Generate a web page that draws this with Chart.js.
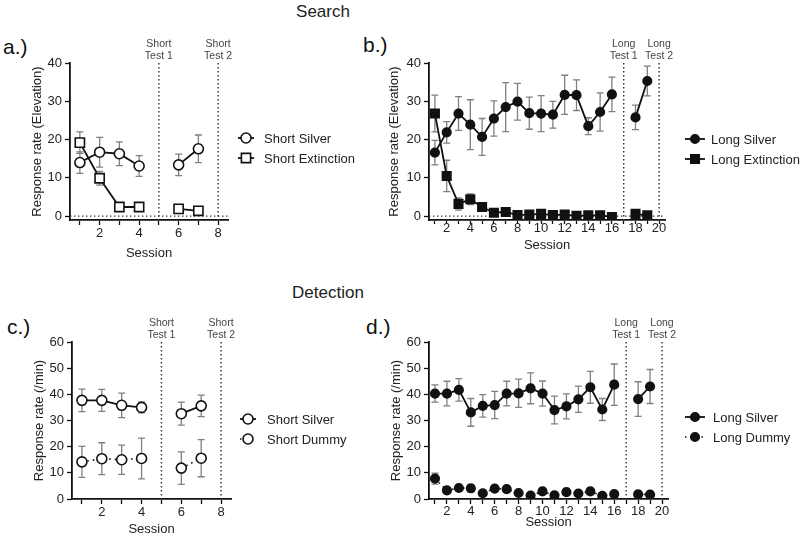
<!DOCTYPE html>
<html>
<head>
<meta charset="utf-8">
<script src="https://cdn.jsdelivr.net/npm/chart.js@4.4.0/dist/chart.umd.min.js"></script>
<style>
  body { margin: 0; background: #fff; font-family: "Liberation Sans", Arial, sans-serif; }
  #fig { position: relative; width: 800px; height: 537px; overflow: hidden; }
  .box { position: absolute; }
  .heading { position: absolute; font-size: 17px; line-height: 20px; color: #222; transform: translateX(-50%); }
  .tag { position: absolute; font-size: 21px; line-height: 24px; color: #111; }
</style>
</head>
<body>
<div id="fig">
  <div class="heading" style="left:323px;top:2px">Search</div>
  <div class="heading" style="left:328px;top:283px">Detection</div>
  <div class="tag" style="left:3px;top:35px">a.)</div>
  <div class="tag" style="left:363px;top:33px">b.)</div>
  <div class="tag" style="left:7px;top:315px">c.)</div>
  <div class="tag" style="left:366px;top:315px">d.)</div>
  <div class="box" style="left:0;top:30px;width:360px;height:250px"><canvas id="chartA"></canvas></div>
  <div class="box" style="left:358px;top:30px;width:442px;height:250px"><canvas id="chartB"></canvas></div>
  <div class="box" style="left:0;top:310px;width:360px;height:227px"><canvas id="chartC"></canvas></div>
  <div class="box" style="left:358px;top:310px;width:442px;height:227px"><canvas id="chartD"></canvas></div>
</div>
<script>
// sessions (5/8 and 17/20 are the test sessions, no training data)
const shortSessions = [1, 2, 3, 4, 6, 7];
const longSessions = [1, 2, 3, 4, 5, 6, 7, 8, 9, 10, 11, 12, 13, 14, 15, 16, 18, 19];
const shortTests = [5, 8];
const longTests = [17, 20];
const shortXTicks = [1, 2, 3, 4, 5, 6, 7, 8];
const longXTicks = [1, 2, 3, 4, 5, 6, 7, 8, 9, 10, 11, 12, 13, 14, 15, 16, 17, 18, 19, 20];
const searchYTicks = [0, 10, 20, 30, 40];
const detectionYTicks = [0, 10, 20, 30, 40, 50, 60];

// a.) Search, short
const searchShortSilver = [14.0, 16.7, 16.3, 13.1, 13.4, 17.6];
const searchShortSilverErr = [2.8, 3.9, 3.1, 2.7, 2.8, 3.6];
const searchShortExtinction = [19.2, 9.9, 2.4, 2.4, 1.9, 1.4];
const searchShortExtinctionErr = [2.8, 1.8, 0.4, 0.4, 0.3, 0.3];

// b.) Search, long
const searchLongSilver = [16.6, 21.9, 26.8, 23.9, 20.7, 25.5, 28.5, 29.9, 26.9, 26.8, 26.5, 31.7, 31.6, 23.5, 27.2, 31.8, 25.8, 35.3];
const searchLongSilverErr = [3.2, 2.8, 4.4, 6.5, 4.8, 4.6, 6.4, 4.8, 4.2, 4.7, 3.5, 5.1, 4.0, 2.2, 5.0, 4.5, 3.2, 3.9];
const searchLongExtinction = [26.8, 10.5, 3.2, 4.4, 2.4, 0.9, 1.1, 0.3, 0.4, 0.6, 0.3, 0.4, 0.1, 0.2, 0.2, -0.2, 0.6, 0.2];
const searchLongExtinctionErr = [4.8, 4.1, 1.6, 1.4, 0.5, 0.3, 0.3, 0.2, 0.2, 0.2, 0.2, 0.2, 0.2, 0.2, 0.2, 0.2, 0.2, 0.2];

// c.) Detection, short
const detectShortSilver = [37.7, 37.7, 35.8, 35.0, 32.6, 35.6];
const detectShortSilverErr = [4.3, 4.2, 4.7, 2.1, 4.4, 4.1];
const detectShortDummy = [14.2, 15.4, 15.0, 15.5, 11.8, 15.6];
const detectShortDummyErr = [5.9, 6.1, 5.6, 7.8, 6.2, 7.1];

// d.) Detection, long
const detectLongSilver = [40.3, 40.3, 41.7, 33.1, 35.6, 35.9, 40.3, 40.4, 42.3, 40.3, 34.0, 35.4, 38.1, 42.7, 34.2, 43.7, 38.2, 43.0];
const detectLongSilverErr = [3.3, 4.7, 4.3, 5.3, 4.3, 5.2, 4.7, 5.4, 5.9, 4.8, 5.3, 4.8, 5.0, 6.1, 4.2, 7.9, 6.6, 6.5];
const detectLongDummy = [7.8, 3.3, 4.2, 4.1, 2.2, 4.0, 3.8, 2.3, 1.3, 2.9, 1.4, 2.6, 2.1, 2.9, 1.2, 1.9, 1.8, 1.7];
const detectLongDummyErr = [2.1, 0.5, 0.6, 1.4, 0.4, 0.5, 1.2, 0.6, 0.4, 0.5, 0.4, 0.5, 0.4, 0.5, 0.4, 0.4, 0.4, 0.4];

const FONT = '"Liberation Sans", Arial, sans-serif';
Chart.defaults.font.family = FONT;
Chart.defaults.font.size = 13;
Chart.defaults.color = '#222';

// turn sessions + values into points, with a null where the test session breaks the line
function toPoints(sessions, values, errs) {
    const pts = [];
    sessions.forEach((s, i) => {
        if (i > 0 && s - sessions[i - 1] > 1) pts.push({ x: s - 1, y: null });
        pts.push({ x: s, y: values[i], e: errs[i] });
    });
    return pts;
}

function series(label, sessions, values, errs, style) {
    return {
        label: label,
        data: toPoints(sessions, values, errs),
        borderColor: '#111',
        borderWidth: style.dotted ? 1.6 : 1.8,
        borderDash: style.dotted ? [1.5, 4] : [],
        pointStyle: style.shape,
        pointRadius: style.radius,
        pointBackgroundColor: style.filled ? '#111' : '#fff',
        pointBorderColor: '#111',
        pointBorderWidth: 1.6,
        spanGaps: false,
        tension: 0
    };
}

// error bars, dotted test lines, test labels and the side legend
const panelDecor = {
    id: 'panelDecor',
    beforeDatasetsDraw(chart, args, o) {
        const { ctx, chartArea: ca, scales: { x, y } } = chart;
        ctx.save();
        ctx.strokeStyle = '#333';
        ctx.lineWidth = 1.4;
        ctx.setLineDash([1.4, 2.6]);
        o.tests.forEach(t => {
            const px = x.getPixelForValue(t);
            ctx.beginPath();
            ctx.moveTo(px, ca.top);
            ctx.lineTo(px, ca.bottom);
            ctx.stroke();
        });
        if (o.zeroLine) {
            const py = y.getPixelForValue(0);
            ctx.beginPath();
            ctx.moveTo(ca.left, py);
            ctx.lineTo(ca.right, py);
            ctx.stroke();
        }
        ctx.setLineDash([]);

        ctx.strokeStyle = '#808080';
        ctx.lineWidth = 1.3;
        chart.data.datasets.forEach((ds, di) => {
            const meta = chart.getDatasetMeta(di);
            meta.data.forEach((el, i) => {
                const d = ds.data[i];
                if (d.y === null || !d.e) return;
                const top = y.getPixelForValue(d.y + d.e);
                const bot = y.getPixelForValue(d.y - d.e);
                ctx.beginPath();
                ctx.moveTo(el.x, top); ctx.lineTo(el.x, bot);
                ctx.moveTo(el.x - 3.5, top); ctx.lineTo(el.x + 3.5, top);
                ctx.moveTo(el.x - 3.5, bot); ctx.lineTo(el.x + 3.5, bot);
                ctx.stroke();
            });
        });
        ctx.restore();
    },
    afterDraw(chart, args, o) {
        const { ctx, chartArea: ca, scales: { x } } = chart;
        ctx.save();

        // "Short / Test 1" labels above the dotted lines
        ctx.fillStyle = '#444';
        ctx.font = '10.5px ' + FONT;
        ctx.textAlign = 'center';
        ctx.textBaseline = 'middle';
        o.tests.forEach((t, i) => {
            const px = x.getPixelForValue(t);
            ctx.fillText(o.testWord, px, ca.top - 19);
            ctx.fillText('Test ' + (i + 1), px, ca.top - 7);
        });

        // legend
        chart.data.datasets.forEach((ds, i) => {
            const ly = o.legendY + i * 20;
            ctx.strokeStyle = ds.borderColor;
            ctx.lineWidth = ds.borderWidth;
            ctx.setLineDash(ds.borderDash);
            ctx.beginPath();
            ctx.moveTo(o.legendX - o.legendHalf, ly);
            ctx.lineTo(o.legendX + o.legendHalf, ly);
            ctx.stroke();
            ctx.setLineDash([]);
            ctx.fillStyle = ds.pointBackgroundColor;
            ctx.strokeStyle = ds.pointBorderColor;
            ctx.lineWidth = ds.pointBorderWidth;
            Chart.helpers.drawPoint(ctx, { pointStyle: ds.pointStyle, radius: ds.pointRadius, rotation: 0, borderWidth: ds.pointBorderWidth }, o.legendX, ly);
            ctx.fillStyle = '#222';
            ctx.font = '13px ' + FONT;
            ctx.textAlign = 'left';
            ctx.textBaseline = 'middle';
            ctx.fillText(ds.label, o.legendTextX, ly + 1);
        });
        ctx.restore();
    }
};

function makePanel(id, p) {
    return new Chart(document.getElementById(id), {
        type: 'line',
        data: { datasets: p.datasets },
        plugins: [panelDecor],
        options: {
            responsive: true,
            maintainAspectRatio: false,
            animation: false,
            layout: { padding: { top: p.top, right: p.right, left: 0, bottom: 0 } },
            scales: {
                x: {
                    type: 'linear',
                    min: p.xMin, max: p.xMax,
                    afterBuildTicks: s => { s.ticks = p.xTicks.map(v => ({ value: v })); },
                    afterFit: s => { s.height = p.xHeight; },
                    ticks: { autoSkip: false, maxRotation: 0, padding: p.xTickPad, color: '#222',
                             callback: v => (v % 2 === 0 ? String(v) : '') },
                    grid: { drawOnChartArea: false, drawTicks: true, tickLength: p.xTickLen, color: '#111', tickWidth: 1.3 },
                    border: { color: '#111', width: 1.8 },
                    title: { display: true, text: 'Session', color: '#222', font: { size: 13 },
                             padding: { top: 0, bottom: p.xTitlePad } }
                },
                y: {
                    min: p.yMin, max: p.yMax,
                    afterBuildTicks: s => { s.ticks = p.yTicks.map(v => ({ value: v })); },
                    afterFit: s => { s.width = p.yWidth; },
                    ticks: { padding: 3, color: '#222' },
                    grid: { drawOnChartArea: false, drawTicks: true, tickLength: 5, color: '#111', tickWidth: 1.3 },
                    border: { color: '#111', width: 1.8 },
                    title: { display: true, text: p.yTitle, color: '#222', font: { size: 13 },
                             padding: { top: p.yTitlePad, bottom: 0 } }
                }
            },
            plugins: {
                legend: { display: false },
                tooltip: { enabled: false },
                panelDecor: p.decor
            }
        }
    });
}

const openCircle = { shape: 'circle', radius: 5, filled: false };
const openSquare = { shape: 'rect', radius: 6.5, filled: false };
const dotCircle = { shape: 'circle', radius: 5, filled: false, dotted: true };
const solidCircle = { shape: 'circle', radius: 4.3, filled: true };
const solidSquare = { shape: 'rect', radius: 6, filled: true };
const solidDotCircle = { shape: 'circle', radius: 4.3, filled: true, dotted: true };

makePanel('chartA', {
    datasets: [
        series('Short Silver', shortSessions, searchShortSilver, searchShortSilverErr, openCircle),
        series('Short Extinction', shortSessions, searchShortExtinction, searchShortExtinctionErr, openSquare)
    ],
    top: 33, right: 132, yWidth: 70, xHeight: 60, xTickLen: 5, xTickPad: 1, xTitlePad: 19, yTitlePad: 30,
    xMin: 0.5, xMax: 8.5, xTicks: shortXTicks, yMin: -1, yMax: 40, yTicks: searchYTicks,
    yTitle: 'Response rate (Elevation)',
    decor: { tests: shortTests, testWord: 'Short', zeroLine: true, legendX: 246, legendHalf: 8, legendTextX: 264, legendY: 108 }
});

makePanel('chartB', {
    datasets: [
        series('Long Silver', longSessions, searchLongSilver, searchLongSilverErr, solidCircle),
        series('Long Extinction', longSessions, searchLongExtinction, searchLongExtinctionErr, solidSquare)
    ],
    top: 33, right: 135, yWidth: 71, xHeight: 60, xTickLen: 4, xTickPad: -3, xTitlePad: 27, yTitlePad: 29,
    xMin: 0.5, xMax: 20.5, xTicks: longXTicks, yMin: -1, yMax: 40, yTicks: searchYTicks,
    yTitle: 'Response rate (Elevation)',
    decor: { tests: longTests, testWord: 'Long', zeroLine: true, legendX: 337, legendHalf: 10, legendTextX: 353, legendY: 109 }
});

makePanel('chartC', {
    datasets: [
        series('Short Silver', shortSessions, detectShortSilver, detectShortSilverErr, openCircle),
        series('Short Dummy', shortSessions, detectShortDummy, detectShortDummyErr, dotCircle)
    ],
    top: 32, right: 129, yWidth: 72, xHeight: 38, xTickLen: 5, xTickPad: 1, xTitlePad: 0, yTitlePad: 32,
    xMin: 0.5, xMax: 8.5, xTicks: shortXTicks, yMin: 0, yMax: 60, yTicks: detectionYTicks,
    yTitle: 'Response rate (/min)',
    decor: { tests: shortTests, testWord: 'Short', zeroLine: false, legendX: 248, legendHalf: 8, legendTextX: 267, legendY: 109 }
});

makePanel('chartD', {
    datasets: [
        series('Long Silver', longSessions, detectLongSilver, detectLongSilverErr, solidCircle),
        series('Long Dummy', longSessions, detectLongDummy, detectLongDummyErr, solidDotCircle)
    ],
    top: 32, right: 132, yWidth: 71, xHeight: 38, xTickLen: 5, xTickPad: 0, xTitlePad: 7, yTitlePad: 31,
    xMin: 0.5, xMax: 20.5, xTicks: longXTicks, yMin: 0, yMax: 60, yTicks: detectionYTicks,
    yTitle: 'Response rate (/min)',
    decor: { tests: longTests, testWord: 'Long', zeroLine: false, legendX: 337, legendHalf: 10, legendTextX: 355, legendY: 107 }
});
</script>
</body>
</html>
